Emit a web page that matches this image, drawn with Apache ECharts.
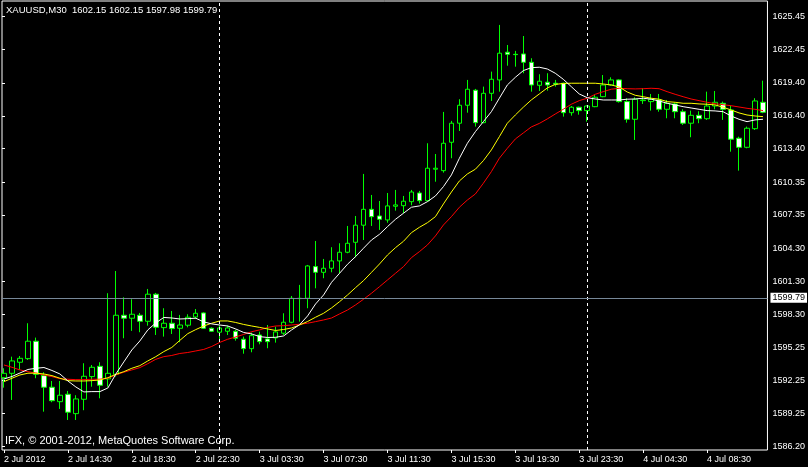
<!DOCTYPE html>
<html><head><meta charset="utf-8">
<script src="https://cdn.jsdelivr.net/npm/echarts@6/dist/echarts.min.js"></script>
<style>html,body{margin:0;padding:0;background:#000;}#c{width:808px;height:467px;}</style>
</head><body><div id="c"></div>
<script>
const symbolName = 'XAUUSD,M30';
const headerOHLC = ['1602.15', '1602.15', '1597.98', '1599.79'];
const bid = 1599.79;
const copyright = 'IFX, \u00a9 2001-2012, MetaQuotes Software Corp.';
const timeTickLabels = ['2 Jul 2012', '2 Jul 14:30', '2 Jul 18:30', '2 Jul 22:30', '3 Jul 03:30', '3 Jul 07:30',
  '3 Jul 11:30', '3 Jul 15:30', '3 Jul 19:30', '3 Jul 23:30', '4 Jul 04:30', '4 Jul 08:30'];
const priceTicks = [1586.20, 1589.25, 1592.25, 1595.25, 1598.30, 1601.30, 1604.30, 1607.35, 1610.35,
  1613.40, 1616.40, 1619.40, 1622.45, 1625.45];
const daySeparators = ['27', '73'];

const opens = [1592.50, 1592.90, 1593.91, 1594.24, 1595.83, 1592.69, 1591.63, 1590.31, 1590.99, 1589.22,
  1590.53, 1592.60, 1593.54, 1592.39, 1592.81, 1598.20, 1597.93, 1598.20, 1597.65, 1600.12,
  1597.07, 1597.47, 1597.01, 1597.29, 1598.04, 1598.41, 1597.01, 1596.65, 1596.74, 1596.74,
  1596.01, 1595.15, 1596.40, 1596.04, 1596.13, 1596.56, 1597.56, 1599.75, 1599.75, 1602.64,
  1602.12, 1602.49, 1603.16, 1603.95, 1604.86, 1606.42, 1607.87, 1607.26, 1606.90, 1608.15,
  1608.20, 1608.57, 1609.36, 1608.66, 1611.53, 1611.40, 1613.99, 1615.73, 1617.37, 1618.74,
  1615.78, 1618.46, 1619.68, 1622.21, 1622.02, 1622.05, 1621.29, 1619.19, 1619.47, 1619.38,
  1619.38, 1616.69, 1617.19, 1616.88, 1617.24, 1618.15, 1619.22, 1619.68, 1617.70, 1616.09,
  1617.79, 1617.70, 1617.85, 1617.00, 1617.49, 1616.78, 1615.73, 1616.45, 1616.14, 1617.30,
  1617.55, 1616.94, 1614.36, 1613.53, 1615.23, 1617.64];
const closes = [1592.90, 1594.03, 1594.27, 1595.83, 1592.81, 1591.63, 1590.40, 1590.90, 1589.35, 1590.56,
  1592.63, 1593.45, 1591.81, 1592.90, 1598.20, 1597.93, 1598.29, 1597.65, 1600.12, 1597.10,
  1597.47, 1596.98, 1597.31, 1598.02, 1598.38, 1597.01, 1596.74, 1597.04, 1597.04, 1596.10,
  1595.15, 1596.34, 1595.79, 1595.79, 1596.68, 1597.56, 1599.75, 1599.72, 1602.70, 1602.12,
  1602.49, 1603.16, 1603.95, 1604.77, 1606.42, 1607.87, 1607.20, 1606.96, 1608.18, 1608.27,
  1608.61, 1609.45, 1608.66, 1611.62, 1611.62, 1613.90, 1615.73, 1617.37, 1618.83, 1615.78,
  1618.46, 1619.74, 1622.12, 1622.02, 1621.99, 1621.29, 1619.22, 1619.56, 1619.22, 1619.29,
  1616.69, 1617.19, 1616.88, 1617.30, 1618.10, 1619.22, 1619.68, 1617.70, 1616.09, 1617.92,
  1617.85, 1617.92, 1617.00, 1617.55, 1616.78, 1615.73, 1616.45, 1616.14, 1617.30, 1617.64,
  1617.00, 1614.27, 1613.53, 1615.27, 1617.76, 1616.73];
const lows = [1591.59, 1590.47, 1593.21, 1594.12, 1592.45, 1589.40, 1590.26, 1589.65, 1588.64, 1588.64,
  1589.53, 1591.68, 1590.62, 1591.68, 1592.60, 1596.10, 1596.77, 1596.65, 1597.25, 1596.40,
  1596.25, 1596.49, 1595.74, 1597.10, 1597.86, 1596.95, 1596.67, 1595.92, 1596.40, 1595.88,
  1594.69, 1594.82, 1595.55, 1595.19, 1595.70, 1596.40, 1597.47, 1597.62, 1598.84, 1600.66,
  1601.58, 1602.12, 1602.03, 1603.86, 1603.49, 1605.07, 1606.35, 1605.99, 1606.65, 1607.75,
  1607.51, 1608.24, 1608.39, 1608.57, 1610.39, 1611.22, 1612.53, 1615.02, 1616.69, 1615.42,
  1615.73, 1617.76, 1618.61, 1620.98, 1620.89, 1620.29, 1618.61, 1618.67, 1618.70, 1619.07,
  1616.33, 1616.42, 1616.51, 1615.87, 1617.19, 1618.10, 1619.16, 1617.61, 1615.78, 1614.20,
  1617.49, 1616.88, 1616.78, 1616.18, 1616.18, 1615.57, 1614.45, 1615.73, 1616.03, 1617.00,
  1616.03, 1613.13, 1611.40, 1613.44, 1615.11, 1616.64];
const highs = [1593.36, 1594.42, 1594.48, 1597.47, 1596.16, 1593.00, 1592.20, 1592.20, 1591.29, 1590.90,
  1593.82, 1593.66, 1593.91, 1600.21, 1602.24, 1599.84, 1599.66, 1598.41, 1600.60, 1600.24,
  1598.84, 1598.59, 1598.23, 1598.29, 1598.77, 1598.47, 1597.09, 1597.31, 1597.25, 1596.88,
  1596.25, 1596.61, 1596.70, 1597.31, 1597.16, 1598.38, 1599.96, 1600.97, 1602.79, 1604.98,
  1603.34, 1604.41, 1604.77, 1606.35, 1607.26, 1611.10, 1609.18, 1608.63, 1609.36, 1609.64,
  1609.09, 1609.64, 1609.55, 1613.90, 1612.92, 1616.76, 1615.94, 1617.92, 1619.68, 1618.86,
  1619.07, 1620.44, 1624.70, 1622.87, 1622.33, 1623.69, 1621.66, 1620.20, 1620.29, 1619.68,
  1619.43, 1617.30, 1617.24, 1617.35, 1618.31, 1620.13, 1619.92, 1619.74, 1618.01, 1618.10,
  1618.92, 1618.40, 1618.40, 1617.85, 1617.61, 1617.00, 1616.88, 1616.82, 1618.61, 1618.67,
  1617.70, 1617.30, 1614.50, 1615.42, 1618.01, 1619.61];

const maFast = [1592.38, 1592.61, 1592.93, 1593.25, 1593.36, 1593.43, 1593.16, 1592.84, 1592.20, 1591.65,
  1591.20, 1591.23, 1591.23, 1591.56, 1592.84, 1593.94, 1595.03, 1595.85, 1596.86, 1597.50,
  1598.00, 1597.95, 1597.86, 1597.89, 1597.93, 1597.59, 1597.41, 1597.31, 1597.22, 1596.95,
  1596.63, 1596.49, 1596.25, 1596.17, 1596.19, 1596.31, 1596.86, 1597.34, 1598.14, 1599.23,
  1600.05, 1601.21, 1602.03, 1602.86, 1603.55, 1604.32, 1605.07, 1605.59, 1606.29, 1606.96,
  1607.51, 1608.06, 1608.18, 1608.57, 1609.09, 1609.94, 1611.01, 1612.53, 1613.90, 1614.96,
  1615.87, 1616.78, 1618.01, 1619.22, 1619.92, 1620.53, 1620.80, 1620.84, 1620.68, 1620.29,
  1619.74, 1619.07, 1618.40, 1618.06, 1617.94, 1617.85, 1617.85, 1617.85, 1617.92, 1617.94,
  1618.01, 1617.92, 1617.76, 1617.55, 1617.40, 1617.24, 1617.12, 1617.00, 1616.88, 1616.85,
  1616.78, 1616.39, 1616.09, 1615.87, 1616.03, 1616.09];
const maMid = [1592.14, 1592.45, 1592.75, 1592.91, 1592.91, 1592.84, 1592.69, 1592.45, 1592.23, 1592.20,
  1592.20, 1592.23, 1592.29, 1592.50, 1592.81, 1593.05, 1593.36, 1593.60, 1594.03, 1594.42,
  1594.88, 1595.26, 1595.90, 1596.52, 1596.89, 1597.22, 1597.47, 1597.68, 1597.68, 1597.54,
  1597.36, 1597.22, 1597.09, 1596.95, 1596.81, 1596.90, 1597.04, 1597.31, 1597.63, 1598.02,
  1598.38, 1598.87, 1599.44, 1600.05, 1600.72, 1601.36, 1602.12, 1602.88, 1603.70, 1604.37,
  1604.95, 1605.74, 1606.23, 1606.65, 1607.20, 1608.36, 1609.45, 1610.46, 1611.10, 1611.53,
  1612.31, 1613.29, 1614.50, 1615.73, 1616.48, 1617.19, 1617.85, 1618.40, 1618.95, 1619.27,
  1619.36, 1619.38, 1619.38, 1619.38, 1619.38, 1619.31, 1619.22, 1619.04, 1618.58, 1618.28,
  1618.15, 1618.01, 1617.92, 1617.70, 1617.64, 1617.55, 1617.55, 1617.49, 1617.46, 1617.40,
  1617.19, 1616.94, 1616.67, 1616.48, 1616.39, 1616.33];
const maSlow = [1593.66, 1593.45, 1593.21, 1593.05, 1592.93, 1592.75, 1592.60, 1592.41, 1592.36, 1592.32,
  1592.32, 1592.36, 1592.36, 1592.45, 1592.75, 1593.00, 1593.21, 1593.42, 1593.78, 1594.18,
  1594.42, 1594.53, 1594.71, 1594.80, 1594.94, 1595.08, 1595.35, 1595.72, 1596.01, 1596.22,
  1596.45, 1596.70, 1596.86, 1597.09, 1597.22, 1597.25, 1597.31, 1597.38, 1597.47, 1597.62,
  1597.77, 1597.95, 1598.32, 1598.68, 1599.14, 1599.66, 1600.21, 1600.81, 1601.42, 1602.03,
  1602.64, 1603.46, 1604.01, 1604.62, 1605.44, 1606.44, 1607.20, 1608.06, 1608.72, 1609.27,
  1610.25, 1611.31, 1612.53, 1613.44, 1614.29, 1614.84, 1615.39, 1615.71, 1616.12, 1616.57,
  1617.00, 1617.46, 1617.79, 1618.01, 1618.37, 1618.61, 1618.83, 1618.92, 1618.88, 1618.86,
  1618.88, 1618.92, 1618.88, 1618.61, 1618.37, 1618.15, 1617.94, 1617.79, 1617.64, 1617.51,
  1617.42, 1617.33, 1617.21, 1617.09, 1617.00, 1616.88];

const categories = opens.map((_, i) => String(i));
const candles = opens.map((o, i) => [o, closes[i], lows[i], highs[i]]);
const yMin = 1585.90, yMax = 1626.885;
const FONT = 'Liberation Sans';

const chart = echarts.init(document.getElementById('c'), null, {renderer: 'canvas'});
chart.setOption({
  backgroundColor: '#000000',
  animation: false,
  textStyle: {fontFamily: FONT},
  title: [
    {text: symbolName + '  ' + headerOHLC.join(' '), left: 6, top: 5, padding: 0,
     textStyle: {color: '#ffffff', fontSize: 9.5, fontWeight: 'normal', fontFamily: FONT}},
    {text: copyright, left: 5, top: 435, padding: 0,
     textStyle: {color: '#ffffff', fontSize: 11, fontWeight: 'normal', fontFamily: FONT}}
  ],
  grid: [
    {left: -1, top: 1, width: 768, height: 449, show: false},
    {left: 2, top: 1, width: 768, height: 449, show: true, borderColor: '#ffffff', borderWidth: 1,
     backgroundColor: 'transparent'}
  ],
  xAxis: [
    {type: 'category', gridIndex: 0, data: categories, boundaryGap: true,
     axisLine: {show: false},
     axisTick: {show: true, interval: 7, alignWithLabel: true, length: 3, lineStyle: {color: '#ffffff'}},
     axisLabel: {interval: 7, color: '#ffffff', fontSize: 9, align: 'left', margin: 5, fontFamily: FONT,
       formatter: (v, i) => timeTickLabels[i / 8] || ''},
     splitLine: {show: false}},
    {type: 'value', gridIndex: 1, min: 0, max: 1, show: false}
  ],
  yAxis: [
    {type: 'value', gridIndex: 0, min: yMin, max: yMax, show: false, splitLine: {show: false}},
    {type: 'value', gridIndex: 1, min: yMin, max: yMax, position: 'right',
     axisLine: {show: false}, splitLine: {show: false},
     axisTick: {show: true, length: 3, customValues: priceTicks, lineStyle: {color: '#ffffff'}},
     axisLabel: {color: '#ffffff', fontSize: 9, margin: 5, fontFamily: FONT, customValues: priceTicks,
       formatter: v => Number(v).toFixed(2)}}
  ],
  series: [
    {type: 'candlestick', xAxisIndex: 0, yAxisIndex: 0, data: candles, barWidth: 5,
     itemStyle: {color: '#000000', color0: '#ffffff', borderColor: '#00ff00', borderColor0: '#00ff00',
       borderColorDoji: '#00ff00', borderWidth: 1},
     markLine: {symbol: 'none', silent: true, animation: false, label: {show: false},
       lineStyle: {color: '#ffffff', type: [3, 3], width: 1},
       data: daySeparators.map(c => ({xAxis: c}))}},
    {type: 'line', xAxisIndex: 0, yAxisIndex: 0, data: maSlow, symbol: 'none', showSymbol: false,
     lineStyle: {color: '#ff0000', width: 1}, itemStyle: {color: '#ff0000'}, z: 3},
    {type: 'line', xAxisIndex: 0, yAxisIndex: 0, data: maMid, symbol: 'none', showSymbol: false,
     lineStyle: {color: '#ffff00', width: 1}, itemStyle: {color: '#ffff00'}, z: 3},
    {type: 'line', xAxisIndex: 0, yAxisIndex: 0, data: maFast, symbol: 'none', showSymbol: false,
     lineStyle: {color: '#ffffff', width: 1}, itemStyle: {color: '#ffffff'}, z: 3},
    {type: 'line', xAxisIndex: 1, yAxisIndex: 1, data: [], symbol: 'none',
     markLine: {symbol: 'none', silent: true, animation: false,
       lineStyle: {color: '#778899', type: 'solid', width: 1},
       label: {show: true, position: 'end', distance: 3, formatter: bid.toFixed(2), color: '#000000',
         backgroundColor: '#ffffff', fontSize: 9, fontFamily: FONT, padding: [1, 2, 0, 2]},
       data: [{yAxis: bid}]}}
  ]
});
</script>
</body></html>
